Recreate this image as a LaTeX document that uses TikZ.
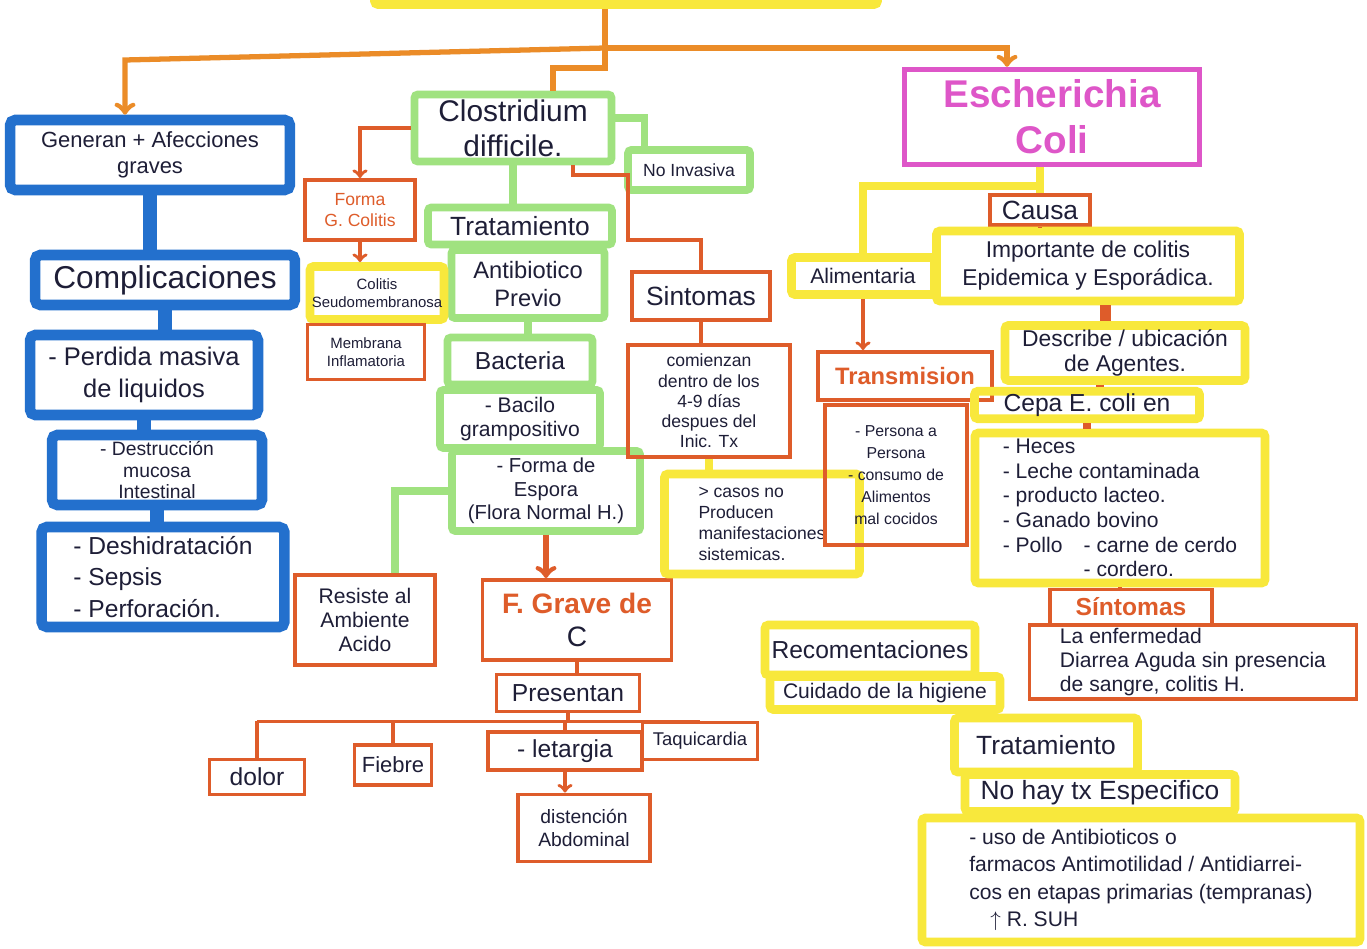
\documentclass[tikz,border=0pt]{standalone}
\usepackage{fontspec}
\setmainfont{Liberation Sans}
\definecolor{blueM}{RGB}{35,112,205}
\definecolor{orangeM}{RGB}{222,92,42}
\definecolor{greenM}{RGB}{160,226,128}
\definecolor{yellowM}{RGB}{248,232,60}
\definecolor{pinkM}{RGB}{222,86,200}
\definecolor{topO}{RGB}{235,140,40}
\definecolor{inkM}{RGB}{30,30,55}
\newcommand{\setfs}[2]{\fontsize{#1}{#2}\selectfont}

\begin{document}
\begin{tikzpicture}[x=0.02cm,y=-0.02cm,
  every node/.style={text=inkM, align=center, inner sep=2pt},
  blubox/.style={draw=blueM, line width=6pt, rounded corners=3pt},
  grnbox/.style={draw=greenM, line width=4.5pt, rounded corners=2pt},
  ylwbox/.style={draw=yellowM, line width=5pt, rounded corners=2pt},
  orgbox/.style={draw=orangeM, line width=2.2pt},
  pnkbox/.style={draw=pinkM, line width=3pt},
  bluel/.style={draw=blueM, line width=8pt},
  grnl/.style={draw=greenM, line width=4pt},
  orgl/.style={draw=orangeM, line width=2pt},
  ylwl/.style={draw=yellowM, line width=5pt},
  topl/.style={draw=topO, line width=3pt}]
\fill[white] (0,0) rectangle (1367,949);
\useasboundingbox (0,0) rectangle (1367,949);

% cut off box at the top
\node[ylwbox, minimum width=10.06cm, minimum height=0.9cm] (root) at (626,-18) {};

% blue column
\node[blubox, minimum width=5.6cm, minimum height=1.4cm, font=\setfs{12.5}{15}] (gen) at (150,155) {Generan + Afecciones\\graves};
\node[blubox, minimum width=5.2cm, minimum height=1.0cm, font=\setfs{18}{20}] (comp) at (165,280) {Complicaciones};
\node[blubox, minimum width=4.56cm, minimum height=1.6cm, font=\setfs{14.5}{18}] (perd) at (144,375) {- Perdida masiva\\de liquidos};
\node[blubox, minimum width=4.2cm, minimum height=1.4cm, font=\setfs{11}{12}] (dest) at (157,470) {- Destrucción\\mucosa\\Intestinal};
\node[blubox, minimum width=4.86cm, minimum height=2.0cm, font=\setfs{14}{18}, align=left] (desh) at (163,577) {- Deshidratación\\- Sepsis\\- Perforación.};

% Clostridium
\node[grnbox, minimum width=3.94cm, minimum height=1.34cm, font=\setfs{17}{20}] (clos) at (513,128) {Clostridium\\difficile.};
\node[grnbox, minimum width=2.44cm, minimum height=0.8cm, font=\setfs{10}{12}] (noinv) at (689,170) {No Invasiva};
\node[grnbox, minimum width=3.68cm, minimum height=0.74cm, font=\setfs{15}{17}] (trat) at (520,226) {Tratamiento};
\node[grnbox, minimum width=3.06cm, minimum height=1.36cm, font=\setfs{13.5}{16}] (anti) at (528,284) {Antibiotico\\Previo};
\node[grnbox, minimum width=2.9cm, minimum height=0.94cm, font=\setfs{14}{16}] (bact) at (520,361) {Bacteria};
\node[grnbox, minimum width=3.2cm, minimum height=1.16cm, font=\setfs{12}{13.5}] (baci) at (520,419) {- Bacilo\\grampositivo};
\node[grnbox, minimum width=3.76cm, minimum height=1.6cm, font=\setfs{11.5}{13.5}] (espo) at (546,491) {- Forma de\\Espora\\(Flora Normal H.)};

\node[orgbox, minimum width=2.2cm, minimum height=1.2cm, font=\setfs{10}{12}, text=orangeM] (forma) at (360,210) {Forma\\G. Colitis};
\node[ylwbox, minimum width=2.5cm, minimum height=1.06cm, font=\setfs{8.5}{10}, inner sep=1pt] (colit) at (377,293) {Colitis\\Seudomembranosa};
\node[orgbox, minimum width=2.34cm, minimum height=1.1cm, font=\setfs{8.5}{10}] (memb) at (366,352) {Membrana\\Inflamatoria};
\node[orgbox, minimum width=2.8cm, minimum height=1.8cm, font=\setfs{12}{13.5}] (resis) at (365,620) {Resiste al\\Ambiente\\Acido};

\node[orgbox, minimum width=3.78cm, minimum height=1.6cm, font=\setfs{16}{19}] (grave) at (577,620) {{\color{orangeM}\bfseries F. Grave de}\\C};
\node[orgbox, minimum width=2.86cm, minimum height=0.74cm, font=\setfs{14}{16}] (pres) at (568,693) {Presentan};
\node[orgbox, minimum width=1.9cm, minimum height=0.7cm, font=\setfs{14}{16}] (dolor) at (257,777) {dolor};
\node[orgbox, minimum width=1.54cm, minimum height=0.8cm, font=\setfs{12.5}{15}] (fiebre) at (393,765) {Fiebre};
\node[orgbox, minimum width=3.08cm, minimum height=0.76cm, font=\setfs{14}{16}] (letar) at (565,751) {- letargia};
\node[orgbox, minimum width=2.3cm, minimum height=0.74cm, font=\setfs{10.5}{12}] (taqui) at (700,741) {Taquicardia};
\node[orgbox, minimum width=2.64cm, minimum height=1.34cm, font=\setfs{11}{13}] (dist) at (584,828) {distención\\Abdominal};

\node[orgbox, minimum width=2.76cm, minimum height=0.96cm, font=\setfs{15}{17}] (sint) at (701,296) {Sintomas};
\node[orgbox, minimum width=3.24cm, minimum height=2.24cm, font=\setfs{10}{11.5}] (comi) at (709,401) {comienzan\\dentro de los\\4-9 días\\despues del\\Inic. Tx};
\node[ylwbox, minimum width=3.9cm, minimum height=2.0cm, font=\setfs{10}{12}, align=left] (casos) at (762,524) {> casos no\\Producen\\manifestaciones\\sistemicas.};

% Escherichia
\node[pnkbox, minimum width=5.9cm, minimum height=1.9cm, font=\setfs{22}{26}\bfseries, text=pinkM] (esch) at (1052,117) {Escherichia\\Coli};
\node[orgbox, minimum width=2.0cm, minimum height=0.6cm, font=\setfs{15}{16}, inner sep=1pt] (causa) at (1040,210) {Causa};
\node[ylwbox, minimum width=2.86cm, minimum height=0.74cm, font=\setfs{12}{14}] (alim) at (863,276) {Alimentaria};
\node[ylwbox, minimum width=6.06cm, minimum height=1.4cm, font=\setfs{13}{16}] (impo) at (1088,266) {Importante de colitis\\Epidemica y Esporádica.};
\node[orgbox, minimum width=3.48cm, minimum height=0.96cm, font=\setfs{13.5}{15}\bfseries, text=orangeM] (trans) at (905,376) {Transmision};
\node[orgbox, minimum width=2.84cm, minimum height=2.8cm, font=\setfs{9}{12.5}] (pers) at (896,475) {- Persona a\\Persona\\- consumo de\\Alimentos\\mal cocidos};
\node[ylwbox, minimum width=4.8cm, minimum height=1.1cm, font=\setfs{13}{14.5}] (descr) at (1125,353) {Describe / ubicación\\de Agentes.};
\node[ylwbox, minimum width=4.5cm, minimum height=0.55cm, font=\setfs{14}{16}, inner sep=0.5pt] (cepa) at (1087,405) {Cepa E. coli en};
\node[ylwbox, minimum width=5.8cm, minimum height=3.0cm, font=\setfs{12}{14}, align=left] (heces) at (1120,508) {- Heces\\- Leche contaminada\\- producto lacteo.\\- Ganado bovino\\- Pollo\quad - carne de cerdo\\\phantom{- Pollo\quad }- cordero.};
\node[orgbox, minimum width=3.24cm, minimum height=0.7cm, font=\setfs{14}{16}\bfseries, text=orangeM] (sint2) at (1131,607) {Síntomas};
\node[orgbox, minimum width=6.54cm, minimum height=1.38cm, font=\setfs{12}{13.5}, align=left] (enfer) at (1193,662) {La enfermedad\\Diarrea Aguda sin presencia\\de sangre, colitis H.};
\node[ylwbox, minimum width=4.2cm, minimum height=1.0cm, font=\setfs{14}{16}] (recom) at (870,650) {Recomentaciones};
\node[ylwbox, minimum width=4.6cm, minimum height=0.66cm, font=\setfs{12}{14}, inner sep=1pt] (cuid) at (885,693) {Cuidado de la higiene};
\node[ylwbox, minimum width=3.66cm, minimum height=1.08cm, font=\setfs{15}{17}] (trat2) at (1046,745) {Tratamiento};
\node[ylwbox, minimum width=5.4cm, minimum height=0.74cm, font=\setfs{15}{17}] (nohay) at (1100,793) {No hay tx Especifico};
\node[ylwbox, minimum width=8.76cm, minimum height=2.48cm, font=\setfs{12}{15.5}, align=left] (uso) at (1141,880) {- uso de Antibioticos o\\farmacos Antimotilidad / Antidiarrei-\\cos en etapas primarias (tempranas)\\\quad $\uparrow$ R. SUH};

% connectors from the top
\coordinate (hub) at (605,48);
\draw[topl] (hub |- root.south) -- (hub);
\draw[topl,->] (hub) -- ([xshift=-0.5cm]gen.north |- 0,60) -- ([xshift=-0.5cm]gen.north);
\draw[topl,->] (hub) -- ([xshift=-0.9cm]esch.north |- hub) -- ([xshift=-0.9cm]esch.north);
\draw[topl] (hub) -- ++(0,20) -| ([xshift=0.8cm]clos.north);

% blue
\draw[bluel] (gen.south) -- (gen.south |- comp.north);
\draw[bluel] (comp.south) -- (comp.south |- perd.north);
\draw[bluel] (perd.south) -- (perd.south |- dest.north);
\draw[bluel] (dest.south) -- (dest.south |- desh.north);

% green
\draw[grnl] ([yshift=0.2cm]clos.east) -| ([xshift=-0.9cm]noinv.north);
\draw[grnl] (clos.south) -- (clos.south |- trat.north);
\draw[grnl] (trat.south) -- (trat.south |- anti.north);
\draw[grnl] (anti.south) -- (anti.south |- bact.north);
\draw[grnl] (bact.south) -- (bact.south |- baci.north);
\draw[grnl] (baci.south) -- (baci.south |- espo.north);
\draw[grnl] (espo.west) -| ([xshift=0.6cm]resis.north);

% orange
\draw[orgl,->] (clos.west) -| (forma.north);
\draw[orgl,->] (forma.south) -- (forma.south |- colit.north);
\draw[orgl] (colit.south) -- (colit.south |- memb.north);
\draw[orgl] ([xshift=1.2cm]clos.south) |- (628,175) -- (628,240) -| (sint.north);
\draw[orgl] (sint.south) -- (sint.south |- comi.north);
\draw[ylwl] (comi.south) -- (comi.south |- casos.north);
\draw[orgl,line width=3pt,->] (espo.south) -- (espo.south |- grave.north);
\draw[orgl] (grave.south) -- (grave.south |- pres.north);
\coordinate (pb) at ([yshift=-0.16cm]pres.south);
\draw[orgl] (pres.south) -- (pb);
\draw[orgl] (pb -| dolor.north) -- (pb -| taqui.north);
\draw[orgl] (pb -| dolor.north) -- (dolor.north);
\draw[orgl] (pb -| fiebre.north) -- (fiebre.north);
\draw[orgl] (pb -| letar.north) -- (letar.north);
\draw[orgl] (pb -| taqui.north) -- (taqui.north);
\draw[orgl,->] (letar.south) -- (letar.south |- dist.north);

% Escherichia
\draw[ylwl] (causa.north |- esch.south) -- (causa.north);
\draw[ylwl] (causa.north |- 0,186) -| (alim.north);
\draw[orgl] (causa.south) -- (causa.south |- impo.north);
\draw[orgl,->] (alim.south) -- (alim.south |- trans.north);
\draw[orgl,line width=6pt] ([xshift=0.35cm]impo.south) -- ([xshift=0.35cm]impo.south |- descr.north);
\draw[orgl,line width=5pt] ([xshift=-0.5cm]descr.south) -- ([xshift=-0.5cm]descr.south |- cepa.north);
\draw[orgl,line width=5pt] (cepa.south) -- (cepa.south |- heces.north);
\draw[orgl] (heces.south) -- (heces.south |- sint2.north);
\draw[orgl] (sint2.south) -- (sint2.south |- enfer.north);
\draw[ylwl] (recom.south) -- (recom.south |- cuid.north);
\draw[ylwl] (trat2.south) -- (trat2.south |- nohay.north);
\draw[ylwl] (nohay.south) -- (nohay.south |- uso.north);

\end{tikzpicture}
\end{document}
